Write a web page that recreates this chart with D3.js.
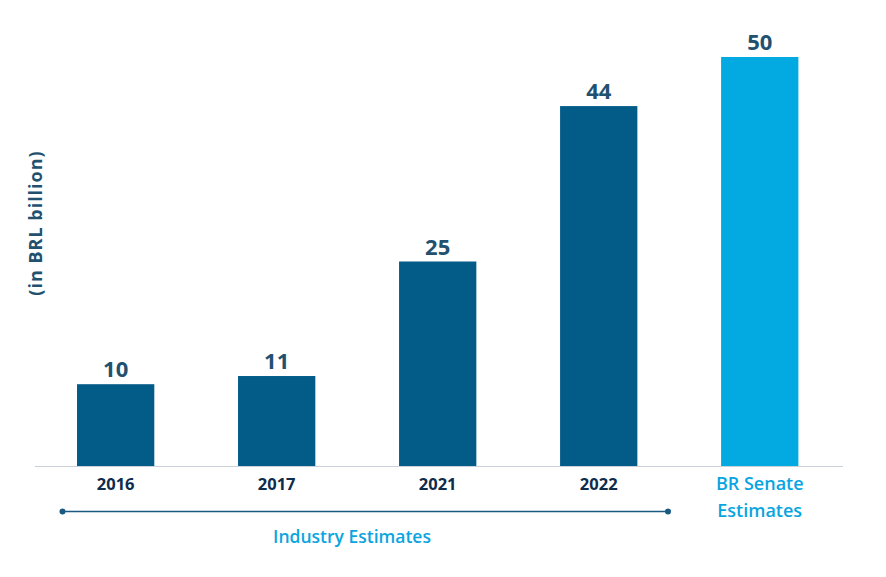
<!DOCTYPE html>
<html><head><meta charset="utf-8">
<script src="https://cdn.jsdelivr.net/npm/d3@7"></script>
<style>body{margin:0;background:#fff;font-family:"Open Sans",sans-serif;}</style>
</head><body>
<svg id="chart" width="886" height="577"></svg>
<script>
const categories = ["2016", "2017", "2021", "2022", "BR Senate Estimates"];
const values = [10, 11, 25, 44, 50];
const barColors = ["#035c88", "#035c88", "#035c88", "#035c88", "#03a9e1"];
const yTitle = "(in BRL billion)";
const groupLabel = "Industry Estimates";

const svg = d3.select("#chart");
const baseY = 466;
const x = d3.scaleBand().domain(categories).range([35, 843]).paddingInner(0.52).paddingOuter(0.269).align(0.485);
const y = d3.scaleLinear().domain([0, 50]).range([baseY, 57]);

svg.selectAll("rect.bar").data(values).enter().append("rect")
  .attr("x", (d, i) => x(categories[i]))
  .attr("y", d => y(d))
  .attr("width", x.bandwidth())
  .attr("height", d => baseY - y(d))
  .attr("fill", (d, i) => barColors[i]);

svg.append("line").attr("x1", 35).attr("x2", 843).attr("y1", baseY + 0.5).attr("y2", baseY + 0.5)
  .attr("stroke", "#c9d1db").attr("stroke-width", 1);

svg.selectAll("text.val").data(values).enter().append("text")
  .attr("x", (d, i) => x(categories[i]) + x.bandwidth() / 2)
  .attr("y", d => y(d) - 7)
  .attr("text-anchor", "middle")
  .attr("font-size", 22).attr("font-weight", 700).attr("fill", "#22506f")
  .text(d => d);

categories.forEach((c, i) => {
  const cx = x(c) + x.bandwidth() / 2;
  if (i < 4) {
    svg.append("text").attr("x", cx).attr("y", 490).attr("text-anchor", "middle")
      .attr("font-size", 16.5).attr("font-weight", 700).attr("fill", "#102c4c").text(c);
  } else {
    const t = svg.append("text").attr("text-anchor", "middle")
      .attr("font-size", 18).attr("font-weight", 600).attr("fill", "#0aa5df");
    t.append("tspan").attr("x", cx).attr("y", 490).text("BR Senate");
    t.append("tspan").attr("x", cx).attr("y", 517).text("Estimates");
  }
});

// bracket
const bx1 = 62.5, bx2 = 668, by = 511.5;
svg.append("line").attr("x1", bx1).attr("x2", bx2).attr("y1", by).attr("y2", by)
  .attr("stroke", "#1a5a82").attr("stroke-width", 1.6);
[bx1, bx2].forEach(px => svg.append("circle").attr("cx", px).attr("cy", by).attr("r", 3).attr("fill", "#1a5a82"));
svg.append("text").attr("x", 352).attr("y", 543).attr("text-anchor", "middle")
  .attr("font-size", 17.5).attr("font-weight", 600).attr("fill", "#0aa5df").text(groupLabel);

svg.append("text").attr("transform", "translate(42,223) rotate(-90)")
  .attr("text-anchor", "middle").attr("font-size", 18).attr("font-weight", 700)
  .attr("letter-spacing", 1).attr("fill", "#22506f").text(yTitle);
</script>
</body></html>
